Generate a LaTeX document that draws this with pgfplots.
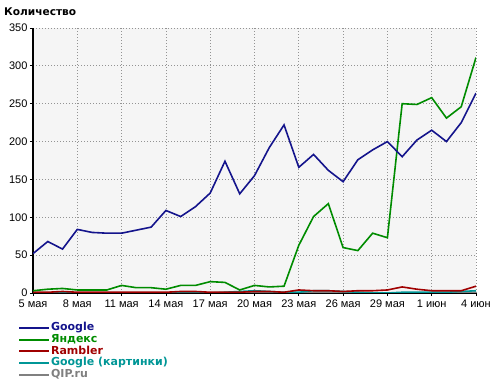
\documentclass[border=0pt]{standalone}
\usepackage{pgfplots}
\pgfplotsset{compat=1.18}
\usepackage{fontspec}
\setmainfont{Liberation Sans}
\newfontfamily\dejavu{DejaVu Sans}
\definecolor{cgoogle}{RGB}{20,20,140}
\definecolor{cyandex}{RGB}{0,140,0}
\definecolor{cramb}{RGB}{160,0,0}
\definecolor{cgimg}{RGB}{0,150,150}
\definecolor{cqip}{RGB}{128,128,128}
\begin{document}
\begin{tikzpicture}
\useasboundingbox (0,0) rectangle (500bp,389bp);
\node[anchor=west,inner sep=0pt,font=\dejavu\bfseries\fontsize{10.6bp}{12bp}\selectfont] at (4bp,377bp) {Количество};
\begin{axis}[
  at={(33bp,96bp)}, anchor=south west,
  scale only axis, width=443bp, height=265bp,
  xmin=0, xmax=30, ymin=0, ymax=350,
  xtick={0,3,...,30},
  xticklabels={5 мая,8 мая,11 мая,14 мая,17 мая,20 мая,23 мая,26 мая,29 мая,1 июн,4 июн},
  ytick={0,50,...,350},
  axis x line*=bottom, axis y line*=left,
  axis line style={-, line width=1.6bp, black},
  axis background/.style={fill=black!4},
  grid=major, major grid style={dash pattern=on 1bp off 2bp, gray!85, line width=0.8bp},
  tick align=outside, major tick length=3bp,
  tick style={black, line width=0.8bp},
  ticklabel style={font=\fontsize{11bp}{13bp}\selectfont},
  xticklabel style={yshift=-0.5bp},
  yticklabel style={xshift=1bp},
  /pgf/number format/assume math mode=true,
  legend style={at={(-0.04,-0.102)}, anchor=north west, draw=none, fill=none,
    font=\dejavu\bfseries\fontsize{11bp}{12bp}\selectfont,
    nodes={inner sep=0.6bp, text height=8bp, text depth=2.2bp},
    row sep=0.3bp},
  legend cell align=left,
  legend image code/.code={\draw (0bp,0bp) -- (30bp,0bp);},
]
\addlegendimage{cgoogle, line width=2bp}
\addlegendentry[text=cgoogle]{Google}
\addlegendimage{cyandex, line width=2bp}
\addlegendentry[text=cyandex]{Яндекс}
\addlegendimage{cramb, line width=2bp}
\addlegendentry[text=cramb]{Rambler}
\addlegendimage{cgimg, line width=2bp}
\addlegendentry[text=cgimg]{Google (картинки)}
\addlegendimage{cqip, line width=2bp}
\addlegendentry[text=cqip]{QIP.ru}
\addplot[cqip, line width=1.6bp, forget plot] coordinates {(0,0)(1,0)(2,0)(3,0)(4,0)(5,0)(6,0)(7,0)(8,0)(9,0)(10,0)(11,0)(12,0)(13,0)(14,0)(15,0)(16,0)(17,0)(18,0)(19,0)(20,0)(21,0)(22,0)(23,0)(24,0)(25,0)(26,0)(27,0)(28,0)(29,1)(30,1)};
\addplot[cgimg, line width=1.6bp, forget plot] coordinates {(0,0)(1,0)(2,0)(3,0)(4,0)(5,0)(6,0)(7,0)(8,0)(9,0)(10,0)(11,0)(12,0)(13,1)(14,2)(15,3)(16,2)(17,1)(18,1)(19,3)(20,3)(21,2)(22,1)(23,0)(24,0)(25,1)(26,1)(27,1)(28,1)(29,2)(30,3)};
\addplot[cramb, line width=1.6bp, forget plot] coordinates {(0,1)(1,1)(2,2)(3,1)(4,1)(5,1)(6,1)(7,1)(8,1)(9,1)(10,2)(11,2)(12,1)(13,1)(14,1)(15,2)(16,2)(17,1)(18,4)(19,3)(20,3)(21,2)(22,3)(23,3)(24,4)(25,8)(26,5)(27,3)(28,3)(29,3)(30,9)};
\addplot[cyandex, line width=1.6bp, forget plot] coordinates {(0,3)(1,5)(2,6)(3,4)(4,4)(5,4)(6,10)(7,7)(8,7)(9,5)(10,10)(11,10)(12,15)(13,14)(14,4)(15,10)(16,8)(17,9)(18,63)(19,101)(20,118)(21,60)(22,56)(23,79)(24,73)(25,250)(26,249)(27,258)(28,231)(29,246)(30,311)};
\addplot[cgoogle, line width=1.6bp, forget plot] coordinates {(0,52)(1,68)(2,58)(3,84)(4,80)(5,79)(6,79)(7,83)(8,87)(9,109)(10,101)(11,114)(12,132)(13,174)(14,131)(15,155)(16,192)(17,222)(18,166)(19,183)(20,162)(21,147)(22,176)(23,189)(24,200)(25,180)(26,202)(27,215)(28,200)(29,225)(30,264)};
\end{axis}
\end{tikzpicture}
\end{document}
